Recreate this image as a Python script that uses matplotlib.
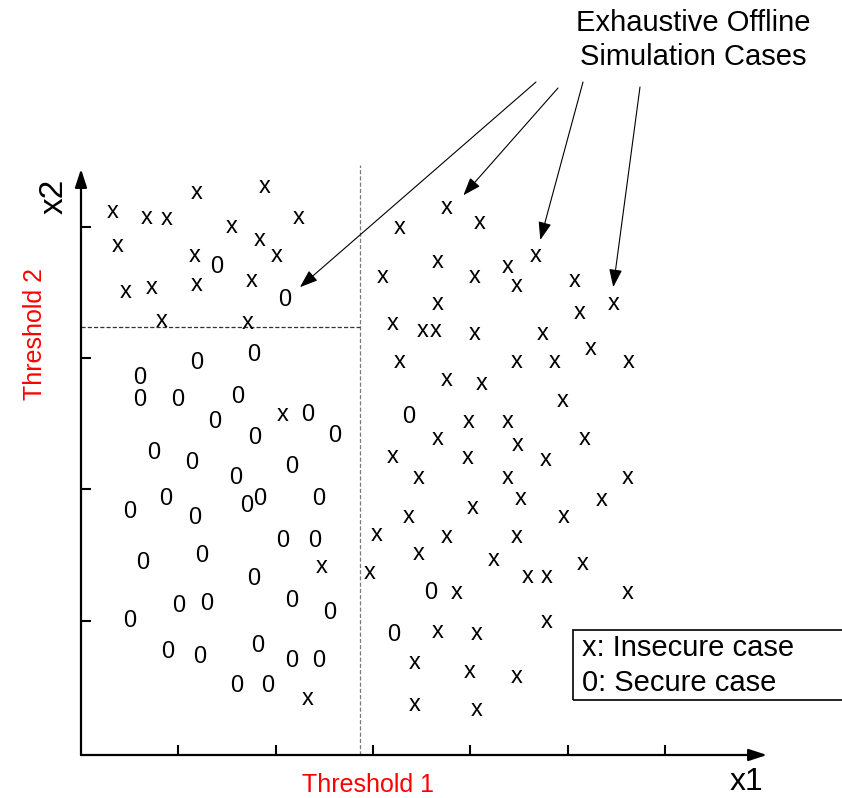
import matplotlib
matplotlib.use("Agg")
import matplotlib.pyplot as plt
from matplotlib.patches import Rectangle

plt.rcParams['font.family'] = ['Liberation Sans', 'DejaVu Sans']
plt.rcParams['lines.scale_dashes'] = False

# ---- data (chart units: x1 ticks at 1..6, x2 ticks at 1..4) ----
insecure_x = [0.33, 0.68, 0.88, 1.19, 1.89, 2.24, 1.55, 0.38, 1.84, 2.01, 1.17, 0.46, 0.73, 1.19, 1.75, 0.83, 1.71,
              2.07, 2.47, 2.33,
              3.76, 3.28, 4.10, 4.67, 3.67, 3.10, 4.05, 4.39, 4.48, 5.07, 5.47, 3.67, 5.12, 3.20, 3.51, 3.65, 4.05, 4.74,
              3.28, 4.48, 4.87, 5.24, 5.63, 3.76, 4.12, 4.95, 3.98, 4.39, 3.67, 4.49, 5.18, 3.20, 3.97, 4.78, 3.47, 4.38,
              5.62, 4.52, 5.35, 4.03, 3.37, 4.96, 3.04, 3.76, 4.48, 3.47, 4.24, 5.16, 2.97, 4.59, 4.79, 3.86, 5.62, 4.79,
              3.67, 4.07, 3.43, 3.99, 4.48, 3.43, 4.07]
insecure_y = [4.11, 4.07, 4.06, 4.26, 4.30, 4.07, 4.00, 3.85, 3.90, 3.78, 3.78, 3.50, 3.53, 3.56, 3.59, 3.28, 3.27,
              2.57, 1.41, 0.40,
              4.14, 3.99, 4.03, 3.78, 3.73, 3.62, 3.62, 3.69, 3.55, 3.59, 3.41, 3.41, 3.34, 3.26, 3.21, 3.21, 3.18, 3.18,
              2.97, 2.97, 2.97, 3.07, 2.97, 2.83, 2.80, 2.67, 2.51, 2.51, 2.38, 2.34, 2.38, 2.25, 2.24, 2.22, 2.09, 2.09,
              2.09, 1.93, 1.92, 1.86, 1.79, 1.79, 1.65, 1.64, 1.64, 1.51, 1.46, 1.43, 1.36, 1.33, 1.33, 1.21, 1.21, 0.99,
              0.91, 0.90, 0.68, 0.61, 0.57, 0.36, 0.32]

secure_x = [1.39, 2.09,
            1.77, 1.19, 0.60, 0.60, 0.99, 1.61, 2.33, 1.37, 2.61, 1.78, 0.75, 1.14, 2.17, 1.59, 0.87, 0.50, 1.17, 1.70,
            1.84, 2.44, 2.07, 2.40, 0.63, 1.24, 1.77, 1.00, 1.29, 2.17, 2.56, 0.50, 1.82, 0.89, 1.22, 2.17, 2.44, 1.60,
            1.92,
            3.37, 3.59, 3.21]
secure_y = [3.69, 3.44,
            3.02, 2.96, 2.85, 2.68, 2.68, 2.70, 2.57, 2.51, 2.41, 2.39, 2.28, 2.20, 2.17, 2.09, 1.93, 1.83, 1.78, 1.87,
            1.93, 1.93, 1.61, 1.61, 1.44, 1.49, 1.32, 1.11, 1.13, 1.15, 1.06, 1.00, 0.81, 0.76, 0.72, 0.69, 0.69, 0.50,
            0.50,
            2.55, 1.21, 0.89]

threshold_1 = 2.87
threshold_2 = 3.24

# arrow tips (chart units) for the annotation
arrow_tip_x = [2.25, 3.93, 4.72, 5.47]
arrow_tip_y = [3.54, 4.24, 3.90, 3.54]
arrow_start_px = [(536, 82), (558, 88), (583, 82), (640, 87)]  # figure pixels from top-left

title_text = "Exhaustive Offline\nSimulation Cases"
legend_lines = ["x: Insecure case", "0: Secure case"]

# ---- figure ----
W, H = 842, 798
fig = plt.figure(figsize=(W / 100, H / 100), dpi=100)
ax = fig.add_axes([81 / W, (H - 755) / H, 686 / W, (755 - 169) / H])
ax.set_xlim(0, 7.05)
ax.set_ylim(-0.023, 4.44)
for s in ax.spines.values():
    s.set_visible(False)
ax.set_xticks([1, 2, 3, 4, 5, 6])
ax.set_yticks([1, 2, 3, 4])
ax.set_xticklabels([])
ax.set_yticklabels([])
ax.tick_params(direction='in', length=7.5, width=1.5, color='black')

# axes with arrow heads
arrow_style = '-|>,head_length=11,head_width=3.6'
ax.annotate('', xy=(1, 0), xytext=(0, 0), xycoords='axes fraction', textcoords='axes fraction',
            arrowprops=dict(arrowstyle=arrow_style, mutation_scale=1, lw=1.6, color='black',
                            shrinkA=0, shrinkB=0))
ax.annotate('', xy=(0, 1), xytext=(0, 0), xycoords='axes fraction', textcoords='axes fraction',
            arrowprops=dict(arrowstyle=arrow_style, mutation_scale=1, lw=1.6, color='black',
                            shrinkA=0, shrinkB=0))

# thresholds
ax.plot([threshold_1, threshold_1], [-0.023, 4.47], color='#7a7a7a', lw=0.9,
        linestyle=(0, (3, 1.5)), clip_on=False)
ax.plot([0, threshold_1], [threshold_2, threshold_2], color='#333333', lw=0.9,
        linestyle=(0, (3, 1.5)))

# points
for x, y in zip(insecure_x, insecure_y):
    ax.text(x, y, 'x', ha='center', va='center', fontsize=17)
for x, y in zip(secure_x, secure_y):
    ax.text(x, y, '0', ha='center', va='center', fontsize=17)

# annotation arrows
for (sx, sy), tx, ty in zip(arrow_start_px, arrow_tip_x, arrow_tip_y):
    ax.annotate('', xy=(tx, ty), xycoords='data',
                xytext=(sx, H - sy), textcoords='figure pixels',
                arrowprops=dict(arrowstyle='-|>,head_length=11,head_width=4', mutation_scale=1,
                                lw=0.8, color='black', shrinkA=0, shrinkB=0),
                annotation_clip=False)

fig.text(693 / W, 1 - 40 / H, title_text, ha='center', va='center', fontsize=21, linespacing=1.25)

# labels
fig.text(368 / W, 1 - 785 / H, 'Threshold 1', color='red', ha='center', va='center', fontsize=18)
fig.text(35 / W, 1 - 334 / H, 'Threshold 2', color='red', ha='center', va='center', fontsize=18,
         rotation=90)
fig.text(747 / W, 1 - 782 / H, 'x1', ha='center', va='center', fontsize=23)
fig.text(54 / W, 1 - 196 / H, 'x2', ha='center', va='center', fontsize=24, rotation=90)

# legend box
fig.patches.append(Rectangle((573, H - 700), 300, 70, transform=None, fill=False,
                             edgecolor='black', lw=1.2))
fig.text(582 / W, 1 - 648 / H, legend_lines[0], ha='left', va='center', fontsize=21)
fig.text(582 / W, 1 - 683 / H, legend_lines[1], ha='left', va='center', fontsize=21)

fig.savefig('out.png', dpi=100)
